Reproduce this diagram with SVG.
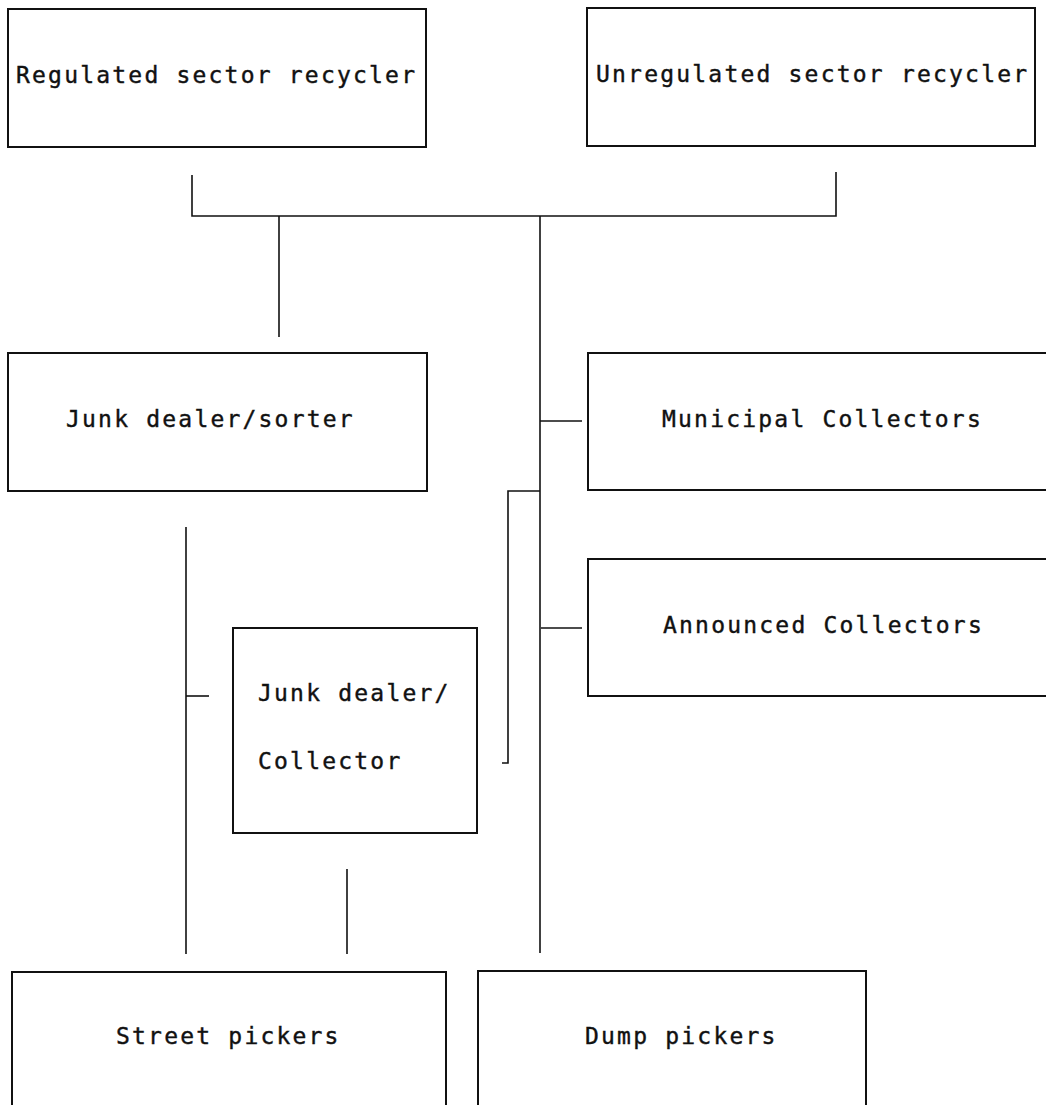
<svg xmlns="http://www.w3.org/2000/svg" width="1046" height="1105" viewBox="0 0 1046 1105">
<style>
.box{fill:#fff;stroke:#111;stroke-width:2}
.lbl{font-family:"DejaVu Sans Mono","Liberation Mono",monospace;font-size:23px;letter-spacing:2.2px;fill:#111;stroke:#111;stroke-width:0.4}
.con{fill:none;stroke:#111;stroke-width:1.6}
</style>
<rect width="1046" height="1105" fill="#fff"/>
<g id="connectors">
<path class="con" d="M192 175 V216 H836 V172"/>
<path class="con" d="M279 216 V337"/>
<path class="con" d="M540 216 V953"/>
<path class="con" d="M540 421 H582"/>
<path class="con" d="M541 628 H582"/>
<path class="con" d="M540 491 H508 V763 H502"/>
<path class="con" d="M186 527 V954"/>
<path class="con" d="M186 696 H209"/>
<path class="con" d="M347 869 V954"/>
</g>
<g id="regulated">
<rect class="box" x="8" y="9" width="418" height="138"/>
<text class="lbl" x="16" y="83">Regulated sector recycler</text>
</g>
<g id="unregulated">
<rect class="box" x="587" y="8" width="448" height="138"/>
<text class="lbl" x="596" y="82">Unregulated sector recycler</text>
</g>
<g id="junk-sorter">
<rect class="box" x="8" y="353" width="419" height="138"/>
<text class="lbl" x="66" y="427">Junk dealer/sorter</text>
</g>
<g id="municipal">
<rect class="box" x="588" y="353" width="470" height="137"/>
<text class="lbl" x="662" y="427">Municipal Collectors</text>
</g>
<g id="announced">
<rect class="box" x="588" y="559" width="470" height="137"/>
<text class="lbl" x="663" y="633">Announced Collectors</text>
</g>
<g id="junk-collector">
<rect class="box" x="233" y="628" width="244" height="205"/>
<text class="lbl" x="258" y="701">Junk dealer/</text>
<text class="lbl" x="258" y="769">Collector</text>
</g>
<g id="street">
<rect class="box" x="12" y="972" width="434" height="200"/>
<text class="lbl" x="116" y="1044">Street pickers</text>
</g>
<g id="dump">
<rect class="box" x="478" y="971" width="388" height="200"/>
<text class="lbl" x="585" y="1044">Dump pickers</text>
</g>
</svg>
